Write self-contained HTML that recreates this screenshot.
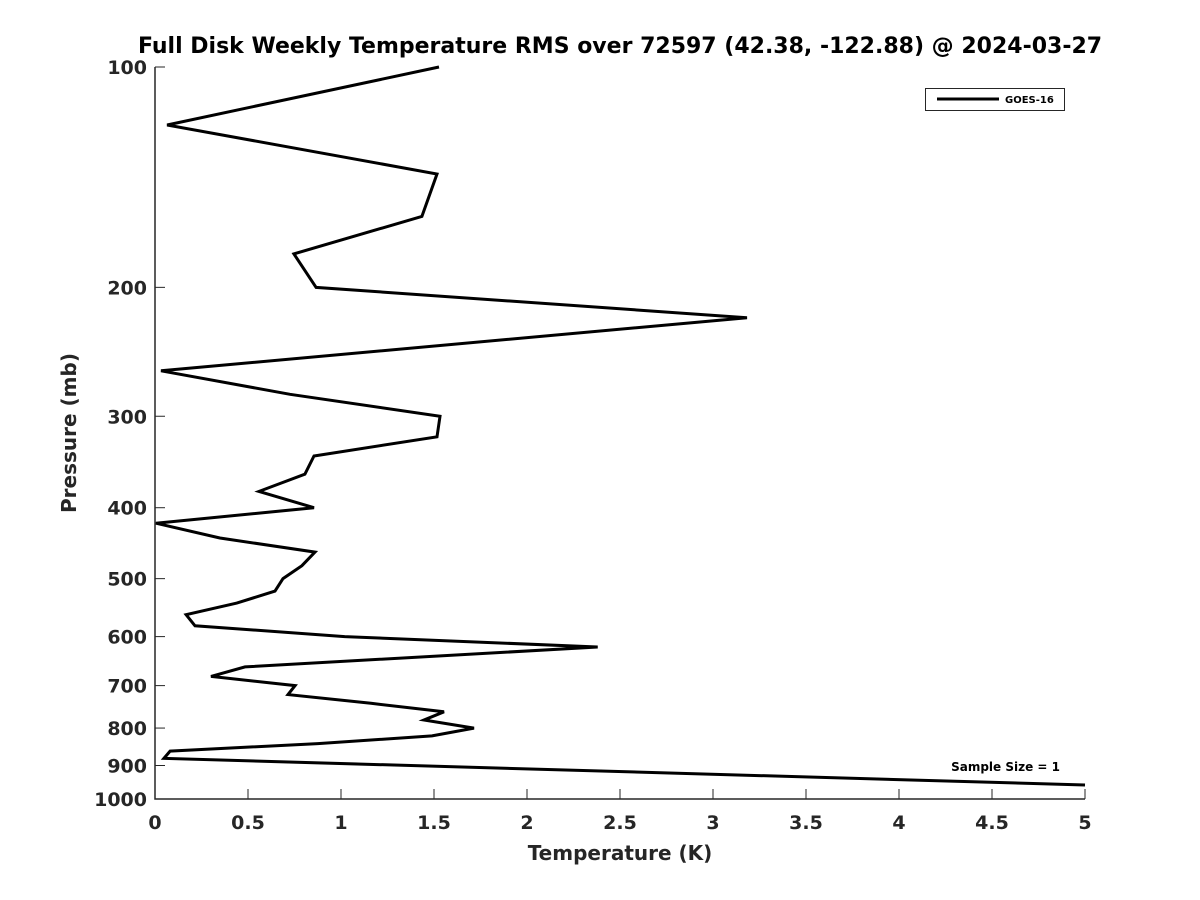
<!DOCTYPE html>
<html><head><meta charset="utf-8"><style>
body{margin:0;background:#fff;}
svg{display:block;font-family:"DejaVu Sans","Liberation Sans",sans-serif;font-weight:bold;}
</style></head><body>
<svg id="chart" width="1200" height="900">
<rect width="1200" height="900" fill="#fff"/>
<text x="620" y="53" text-anchor="middle" font-size="22" fill="#000">Full Disk Weekly Temperature RMS over 72597 (42.38, -122.88) @ 2024-03-27</text>
<g id="axes"></g>
<text x="620" y="860" text-anchor="middle" font-size="20" fill="#262626">Temperature (K)</text>
<text transform="translate(76,433) rotate(-90)" text-anchor="middle" font-size="20" fill="#262626">Pressure (mb)</text>
<g>
<rect x="925.5" y="88.5" width="139" height="22" fill="#fff" stroke="#262626" stroke-width="1"/>
<line x1="937" y1="99" x2="999" y2="99" stroke="#000" stroke-width="3"/>
<text x="1005" y="103" font-size="10" fill="#000">GOES-16</text>
</g>
<text x="1060" y="771" text-anchor="end" font-size="12" fill="#000">Sample Size = 1</text>
</svg>
<script>
const pressures=[100,120,140,160,180,200,220,260,280,300,320,340,360,380,400,420,440,460,480,500,520,540,560,580,600,620,660,680,700,720,740,760,780,800,820,840,860,880,957];
const rmsValues=[1.527,0.065,1.516,1.435,0.747,0.866,3.183,0.032,0.726,1.532,1.516,0.855,0.806,0.559,0.855,0.005,0.349,0.86,0.79,0.688,0.645,0.44,0.167,0.215,1.02,2.38,0.484,0.301,0.753,0.715,1.161,1.554,1.446,1.715,1.489,0.876,0.081,0.048,5.0];
const xTicks=[0,0.5,1,1.5,2,2.5,3,3.5,4,4.5,5];
const xTickLabels=["0","0.5","1","1.5","2","2.5","3","3.5","4","4.5","5"];
const yTicks=[100,200,300,400,500,600,700,800,900,1000];
const yTickLabels=["100","200","300","400","500","600","700","800","900","1000"];

const X0=155,X1=1085,Y0=67,Y1=799;
const xs=v=>X0+(v-0)/(5-0)*(X1-X0);
const ys=p=>Y0+(Math.log10(p)-2)/(3-2)*(Y1-Y0);
const NS="http://www.w3.org/2000/svg";
const g=document.getElementById('axes');
function mk(t,a){const e=document.createElementNS(NS,t);for(const k in a)e.setAttribute(k,a[k]);return e;}
const ax=mk('path',{d:`M${X0},${Y0}V${Y1}H${X1}`,fill:'none',stroke:'#262626','stroke-width':1.5});


g.appendChild(ax);
xTicks.forEach((v,i)=>{
 const x=xs(v);
 const t=mk('line',{x1:x,x2:x,y1:Y1,y2:Y1-10,stroke:'#262626','stroke-width':1});
 
 
 g.appendChild(t);
 const l=mk('text',{x:x,y:Y1+30,'text-anchor':'middle','font-size':19,fill:'#262626'});
 l.textContent=xTickLabels[i];
 
 
 g.appendChild(l);
});
yTicks.forEach((p,i)=>{
 const y=ys(p);
 const t=mk('line',{x1:X0,x2:X0+10,y1:y,y2:y,stroke:'#262626','stroke-width':1});
 
 
 g.appendChild(t);
 const l=mk('text',{x:X0-8,y:y+7,'text-anchor':'end','font-size':19,fill:'#262626'});
 l.textContent=yTickLabels[i];
 
 
 g.appendChild(l);
});
const d=pressures.map((p,i)=>(i?'L':'M')+xs(rmsValues[i]).toFixed(1)+','+ys(p).toFixed(1)).join('');
const line=mk('path',{d:d,fill:'none',stroke:'#000','stroke-width':3,'stroke-linejoin':'miter'});


g.appendChild(line);
</script>
</body></html>
